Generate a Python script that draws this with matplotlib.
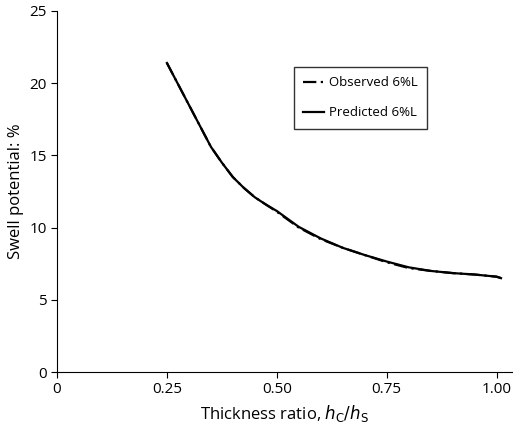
import matplotlib
matplotlib.use("Agg")
from matplotlib import pyplot as plt

plt.rcParams["font.family"] = ["Open Sans", "DejaVu Sans"]

# values
ratio = [0.25, 0.30, 0.35, 0.375, 0.40, 0.425, 0.45, 0.475, 0.50, 0.55,
         0.60, 0.65, 0.70, 0.75, 0.80, 0.85, 0.90, 0.95, 1.00, 1.01]
observed = [21.4, 18.5, 15.6, 14.5, 13.5, 12.75, 12.1, 11.6, 11.1, 10.0,
            9.2, 8.6, 8.1, 7.6, 7.2, 7.0, 6.85, 6.75, 6.6, 6.5]
predicted = [21.4, 18.5, 15.6, 14.5, 13.5, 12.75, 12.1, 11.6, 11.15, 10.05,
             9.25, 8.6, 8.1, 7.65, 7.25, 7.0, 6.85, 6.75, 6.6, 6.5]

fig = plt.figure(figsize=(5.2, 4.34), dpi=100)
ax = fig.add_axes([57 / 520, 62 / 434, 455 / 520, 361 / 434])

ax.plot(ratio, observed, color="black", lw=1.6, dashes=(6, 2, 1, 2),
        label="Observed 6%L")
ax.plot(ratio, predicted, color="black", lw=1.6, label="Predicted 6%L")

ax.set_xlim(0, 1.035)
ax.set_ylim(0, 25)
ax.set_xticks([0, 0.25, 0.5, 0.75, 1.0])
ax.set_xticklabels(["0", "0.25", "0.50", "0.75", "1.00"])
ax.set_yticks(range(0, 26, 5))
ax.tick_params(labelsize=11, direction="out", length=4)
for s in ("top", "right"):
    ax.spines[s].set_visible(False)

ax.set_xlabel(r"Thickness ratio, $h_\mathrm{C}/h_\mathrm{S}$", fontsize=12)
ax.set_ylabel("Swell potential: %", fontsize=12)

leg = ax.legend(loc="upper left", bbox_to_anchor=(0.52, 0.845), fontsize=9.5,
                frameon=True, fancybox=False, edgecolor="black",
                handlelength=1.6, handletextpad=0.4, borderpad=0.7,
                labelspacing=1.3, borderaxespad=0)
leg.get_frame().set_linewidth(1.0)

fig.savefig("out.png", dpi=100)
